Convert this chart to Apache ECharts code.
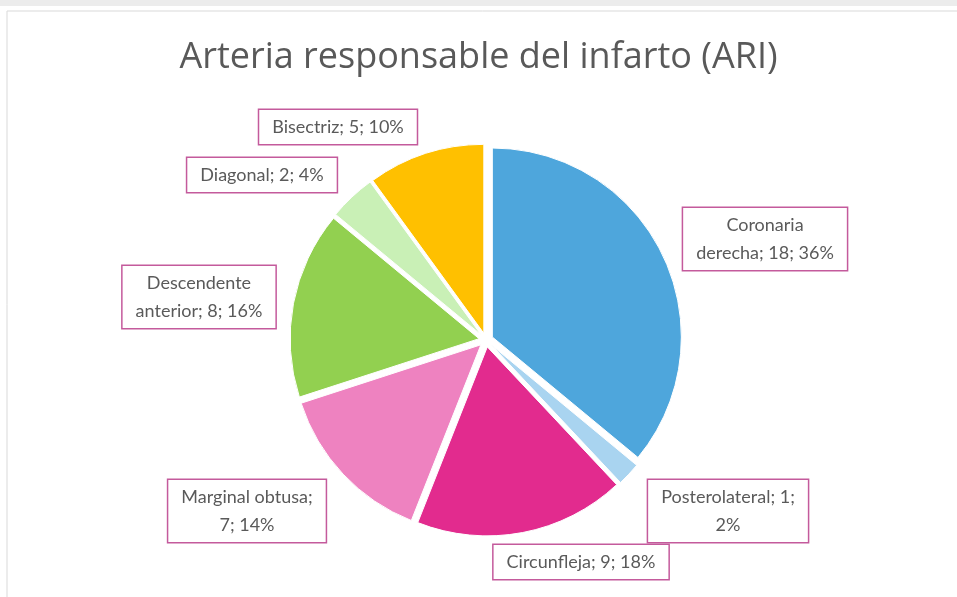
<!DOCTYPE html>
<html>
<head>
<meta charset="utf-8">
<script src="https://cdn.jsdelivr.net/npm/echarts@6/dist/echarts.min.js"></script>
<style>
  html, body { margin: 0; padding: 0; background: #fff; }
  #chart { width: 957px; height: 597px; }
</style>
</head>
<body>
<div id="chart"></div>
<script>
// Arteria responsable del infarto (ARI) - pie con etiquetas en recuadro
var categorias = ['Coronaria derecha', 'Posterolateral', 'Circunfleja', 'Marginal obtusa',
  'Descendente anterior', 'Diagonal', 'Bisectriz'];
var valores = [18, 1, 9, 7, 8, 2, 5];
var colores = ['#4ea6dc', '#a9d4f0', '#e22b8e', '#ee82c0', '#92d050', '#c9f0b6', '#ffc000'];
// centro de cada recuadro de etiqueta (px)
var posEtiquetas = [[765, 239], [728, 511], [581, 562], [247, 511], [199, 297], [262, 175], [338, 127]];

var total = valores.reduce(function (a, b) { return a + b; }, 0);

// texto "nombre; valor; %" con los saltos de linea del original
function textoEtiqueta(i) {
  var v = valores[i];
  var pct = Math.round(v / total * 100) + '%';
  switch (i) {
    case 0: return 'Coronaria\nderecha; ' + v + '; ' + pct;
    case 1: return categorias[i] + '; ' + v + ';\n' + pct;
    case 3: return categorias[i] + ';\n' + v + '; ' + pct;
    case 4: return 'Descendente\nanterior; ' + v + '; ' + pct;
    default: return categorias[i] + '; ' + v + '; ' + pct;
  }
}

var chart = echarts.init(document.getElementById('chart'));

var etiquetasGraficas = categorias.map(function (c, i) {
  return {
    type: 'text',
    x: posEtiquetas[i][0],
    y: posEtiquetas[i][1],
    z: 100,
    style: {
      text: textoEtiqueta(i),
      fontFamily: 'Lato',
      fontSize: 18,
      lineHeight: 28,
      fill: '#5a5a5a',
      align: 'center',
      verticalAlign: 'middle',
      backgroundColor: '#fff',
      borderColor: '#c45a9c',
      borderWidth: 1.5,
      padding: [3, 13, 3, 13]
    }
  };
});

var option = {
  backgroundColor: '#fff',
  animation: false,
  title: {
    text: 'Arteria responsable del infarto (ARI)',
    left: 'center',
    top: 35,
    textStyle: { fontFamily: 'Open Sans', fontWeight: 'normal', fontSize: 36, color: '#595959' }
  },
  graphic: [
    { type: 'rect', shape: { x: 0, y: 0, width: 957, height: 6 }, style: { fill: '#ececec' } },
    { type: 'rect', shape: { x: 7, y: 11, width: 960, height: 600 }, style: { fill: 'none', stroke: '#d9d9d9', lineWidth: 1 } }
  ].concat(etiquetasGraficas),
  series: [{
    type: 'pie',
    center: [486, 340],
    radius: 189,
    startAngle: 90,
    clockwise: true,
    selectedMode: 'multiple',
    selectedOffset: 7,
    emphasis: { disabled: true },
    itemStyle: { borderColor: '#fff', borderWidth: 1 },
    label: { show: false },
    labelLine: { show: false },
    data: categorias.map(function (c, i) {
      return { name: c, value: valores[i], selected: true, itemStyle: { color: colores[i] } };
    })
  }]
};

chart.setOption(option);
</script>
</body>
</html>
